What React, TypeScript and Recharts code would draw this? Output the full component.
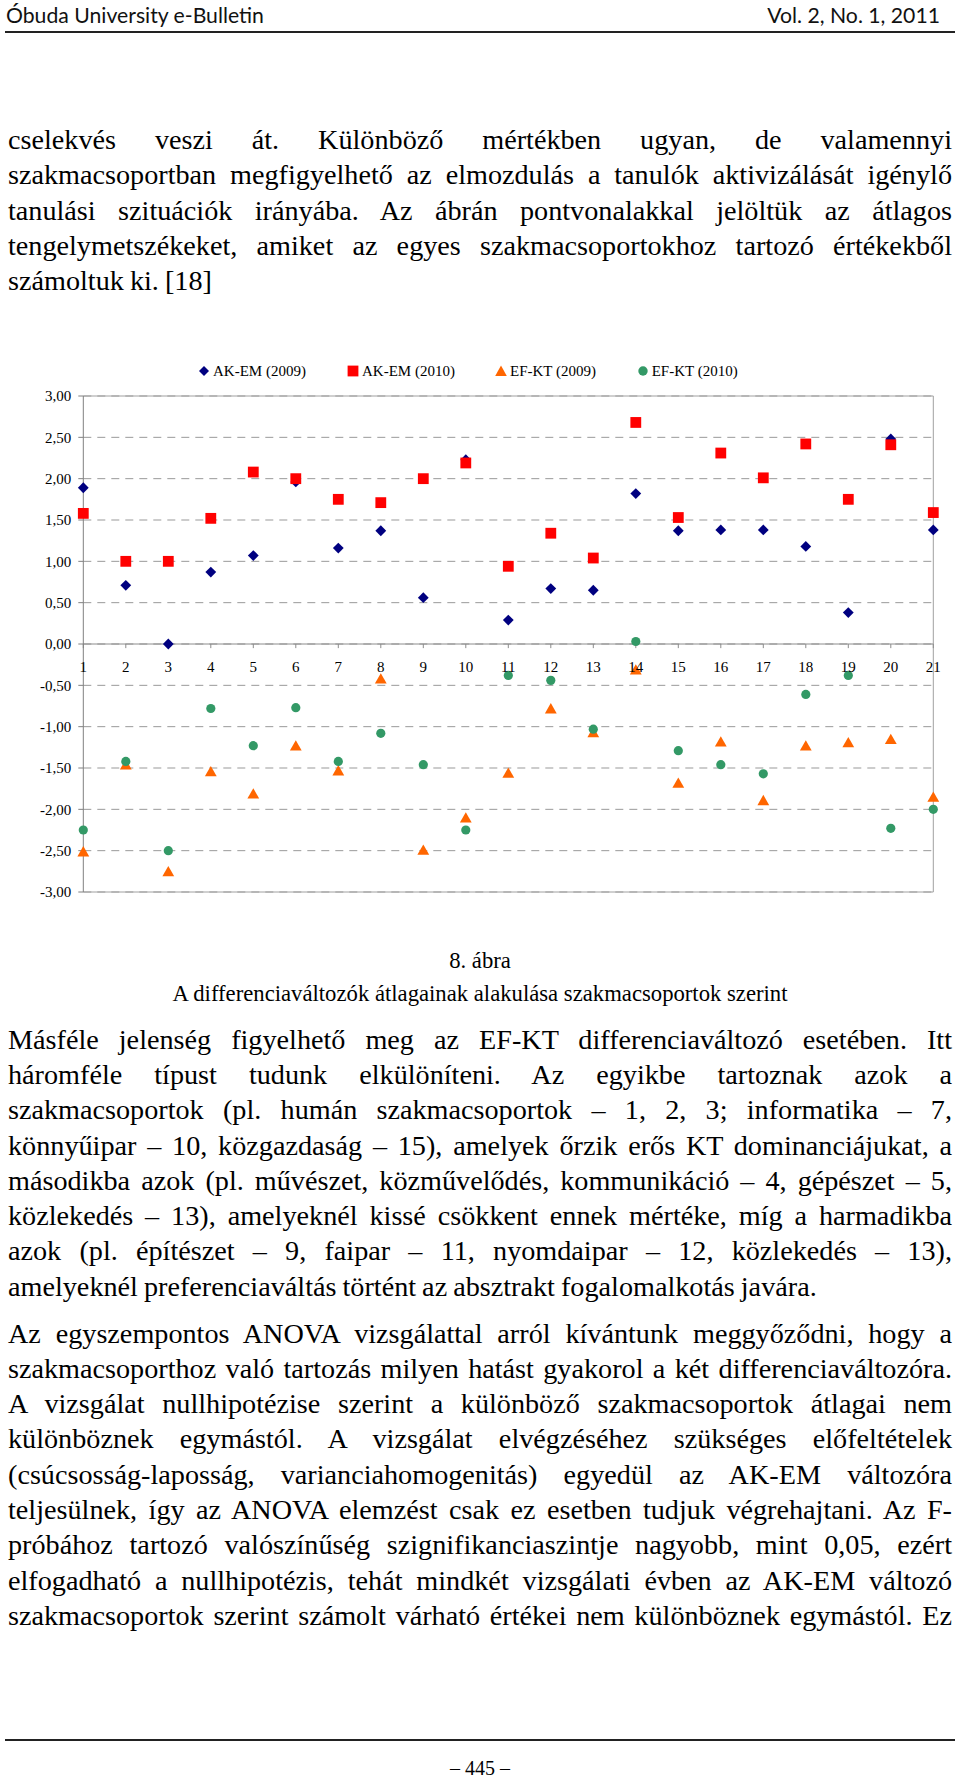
import React from "react";
import {
  ScatterChart,
  Scatter,
  XAxis,
  YAxis,
  CartesianGrid,
  ReferenceLine,
  ReferenceDot,
  Legend,
} from "recharts";

// ---- chart data ----
const categories = [1, 2, 3, 4, 5, 6, 7, 8, 9, 10, 11, 12, 13, 14, 15, 16, 17, 18, 19, 20, 21];
const akEm2009 = [1.89, 0.71, 0.0, 0.87, 1.07, 1.96, 1.16, 1.37, 0.56, 2.23, 0.29, 0.67, 0.65, 1.82, 1.37, 1.38, 1.38, 1.18, 0.38, 2.48, 1.38];
const akEm2010 = [1.58, 1.0, 1.0, 1.52, 2.08, 2.0, 1.75, 1.71, 2.0, 2.19, 0.94, 1.34, 1.04, 2.68, 1.53, 2.31, 2.01, 2.42, 1.75, 2.41, 1.59];
const efKt2009 = [-2.51, -1.46, -2.75, -1.54, -1.81, -1.23, -1.53, -0.42, -2.49, -2.1, -1.56, -0.78, -1.07, -0.31, -1.68, -1.18, -1.89, -1.23, -1.19, -1.15, -1.85];
const efKt2010 = [-2.25, -1.42, -2.5, -0.78, -1.23, -0.77, -1.42, -1.08, -1.46, -2.25, -0.38, -0.44, -1.03, 0.03, -1.29, -1.46, -1.57, -0.61, -0.38, -2.23, -2.0];
const yTicks = [-3, -2.5, -2, -1.5, -1, -0.5, 0, 0.5, 1, 1.5, 2, 2.5, 3];
const seriesNames = ["AK-EM (2009)", "AK-EM (2010)", "EF-KT (2009)", "EF-KT (2010)"];

// ---- page text ----
const para1 = [
  "cselekvés veszi át. Különböző mértékben ugyan, de valamennyi",
  "szakmacsoportban megfigyelhető az elmozdulás a tanulók aktivizálását igénylő",
  "tanulási szituációk irányába. Az ábrán pontvonalakkal jelöltük az átlagos",
  "tengelymetszékeket, amiket az egyes szakmacsoportokhoz tartozó értékekből",
  "számoltuk ki. [18]",
];
const para2 = [
  "Másféle jelenség figyelhető meg az EF-KT differenciaváltozó esetében. Itt",
  "háromféle típust tudunk elkülöníteni. Az egyikbe tartoznak azok a",
  "szakmacsoportok (pl. humán szakmacsoportok – 1, 2, 3; informatika – 7,",
  "könnyűipar – 10, közgazdaság – 15), amelyek őrzik erős KT dominanciájukat, a",
  "másodikba azok (pl. művészet, közművelődés, kommunikáció – 4, gépészet – 5,",
  "közlekedés – 13), amelyeknél kissé csökkent ennek mértéke, míg a harmadikba",
  "azok (pl. építészet – 9, faipar – 11, nyomdaipar – 12, közlekedés – 13),",
  "amelyeknél preferenciaváltás történt az absztrakt fogalomalkotás javára.",
];
const para3 = [
  "Az egyszempontos ANOVA vizsgálattal arról kívántunk meggyőződni, hogy a",
  "szakmacsoporthoz való tartozás milyen hatást gyakorol a két differenciaváltozóra.",
  "A vizsgálat nullhipotézise szerint a különböző szakmacsoportok átlagai nem",
  "különböznek egymástól. A vizsgálat elvégzéséhez szükséges előfeltételek",
  "(csúcsosság-laposság, varianciahomogenitás) egyedül az AK-EM változóra",
  "teljesülnek, így az ANOVA elemzést csak ez esetben tudjuk végrehajtani. Az F-",
  "próbához tartozó valószínűség szignifikanciaszintje nagyobb, mint 0,05, ezért",
  "elfogadható a nullhipotézis, tehát mindkét vizsgálati évben az AK-EM változó",
  "szakmacsoportok szerint számolt várható értékei nem különböznek egymástól. Ez",
];

const SERIF = "'Liberation Serif', 'Times New Roman', serif";
const C_NAVY = "#000080";
const C_RED = "#ff0000";
const C_ORANGE = "#ff6600";
const C_GREEN = "#339966";

const toData = (vals: number[]) => categories.map((c, i) => ({ x: c, y: vals[i] }));

const Diamond = (p: any) => {
  const { cx, cy } = p;
  const h = 5.4;
  return <path d={`M${cx},${cy - h}L${cx + h},${cy}L${cx},${cy + h}L${cx - h},${cy}Z`} fill={C_NAVY} />;
};
const Square = (p: any) => {
  const { cx, cy } = p;
  const h = 5.4;
  return <rect x={cx - h} y={cy - h} width={2 * h} height={2 * h} fill={C_RED} />;
};
const Triangle = (p: any) => {
  const { cx, cy } = p;
  return <path d={`M${cx},${cy - 5.4}L${cx + 5.9},${cy + 4.9}L${cx - 5.9},${cy + 4.9}Z`} fill={C_ORANGE} />;
};
const Circle = (p: any) => {
  const { cx, cy } = p;
  return <circle cx={cx} cy={cy} r={4.6} fill={C_GREEN} />;
};

const legendMarkers = [
  (
    <svg width={12} height={12} key="m0">
      <path d="M6,1L11,6L6,11L1,6Z" fill={C_NAVY} />
    </svg>
  ),
  (
    <svg width={12} height={12} key="m1">
      <rect x={0.6} y={0.6} width={10.8} height={10.8} fill={C_RED} />
    </svg>
  ),
  (
    <svg width={12} height={12} key="m2">
      <path d="M6,0.6L11.8,11L0.2,11Z" fill={C_ORANGE} />
    </svg>
  ),
  (
    <svg width={12} height={12} key="m3">
      <circle cx={6} cy={6} r={4.7} fill={C_GREEN} />
    </svg>
  ),
];
const legendMarkerLeft = [198, 346.7, 495.3, 636.7];
const legendTextLeft = [213, 362, 510, 651.7];

const renderLegend = () => (
  <div style={{ position: "relative", width: 960, height: 22 }}>
    {seriesNames.map((name, i) => (
      <React.Fragment key={name}>
        <div style={{ position: "absolute", left: legendMarkerLeft[i], top: 5, width: 12, height: 12, lineHeight: 0 }}>
          {legendMarkers[i]}
        </div>
        <div
          style={{
            position: "absolute",
            left: legendTextLeft[i],
            top: 0,
            fontFamily: SERIF,
            fontSize: 15,
            lineHeight: "22px",
            color: "#000",
            whiteSpace: "nowrap",
          }}
        >
          {name}
        </div>
      </React.Fragment>
    ))}
  </div>
);

const LINE_H = 35.3;

const Paragraph = ({ lines, top, justifyLast }: { lines: string[]; top: number; justifyLast: boolean }) => (
  <div
    style={{
      position: "absolute",
      left: 8,
      top,
      width: 944,
      fontFamily: SERIF,
      fontSize: 28.2,
      lineHeight: `${LINE_H}px`,
      color: "#000",
    }}
  >
    {lines.map((l, i) => {
      const last = i === lines.length - 1 && !justifyLast;
      return (
        <div
          key={i}
          style={{
            height: LINE_H,
            textAlign: last ? "left" : "justify",
            textAlignLast: last ? "left" : "justify",
            whiteSpace: "nowrap",
            wordSpacing: -1,
          }}
        >
          {l}
        </div>
      );
    })}
  </div>
);

const yFmt = (v: number) => v.toFixed(2).replace(".", ",");

const headerStyle: React.CSSProperties = {
  position: "absolute",
  top: 2,
  fontFamily: "Lato, 'Open Sans', sans-serif",
  fontSize: 21.2,
  lineHeight: "26px",
  color: "#111",
  whiteSpace: "nowrap",
};

export default function App() {
  return (
    <div
      style={{
        position: "absolute",
        left: 0,
        top: 0,
        width: 960,
        height: 1778,
        overflow: "hidden",
        background: "#fff",
      }}
    >
      {/* header */}
      <div style={{ ...headerStyle, left: 6 }}>Óbuda University e-Bulletin</div>
      <div style={{ ...headerStyle, right: 20 }}>Vol. 2, No. 1, 2011</div>
      <div style={{ position: "absolute", left: 5, top: 31, width: 950, height: 2, background: "#222" }} />

      <Paragraph lines={para1} top={122} justifyLast={false} />

      {/* chart */}
      <div style={{ position: "absolute", left: 0, top: 350, width: 960, height: 560 }}>
        <ScatterChart width={960} height={560} margin={{ top: 46, right: 26.7, bottom: 18, left: 23.3 }}>
          <CartesianGrid vertical={false} stroke="#999999" strokeDasharray="8 6" />
          <XAxis type="number" dataKey="x" domain={[1, 21]} hide />
          <YAxis
            type="number"
            dataKey="y"
            domain={[-3, 3]}
            ticks={yTicks}
            interval={0}
            width={60}
            tickFormatter={yFmt}
            tickSize={5}
            tickMargin={7}
            axisLine={{ stroke: "#808080" }}
            tickLine={{ stroke: "#808080" }}
            tick={{ fill: "#000", fontSize: 15, fontFamily: SERIF }}
          />
          <ReferenceLine y={3} stroke="#a0a0a0" />
          <ReferenceLine y={-3} stroke="#a0a0a0" />
          <ReferenceLine x={21} stroke="#a0a0a0" />
          <ReferenceLine y={0} stroke="#8c8c8c" />
          {categories.map((c) => (
            <ReferenceLine
              key={`t${c}`}
              segment={[
                { x: c, y: 0 },
                { x: c, y: -0.05 },
              ]}
              stroke="#8c8c8c"
            />
          ))}
          {categories.map((c) => (
            <ReferenceDot
              key={`l${c}`}
              x={c}
              y={0}
              r={0}
              fill="none"
              stroke="none"
              label={{ value: String(c), position: "bottom", offset: 17.5, fontSize: 15, fill: "#000", fontFamily: SERIF }}
            />
          ))}
          <Legend
            layout="horizontal"
            verticalAlign="middle"
            align="center"
            content={renderLegend}
            wrapperStyle={{ top: 10, left: 0, width: 960, height: 22 }}
          />
          <Scatter name={seriesNames[0]} data={toData(akEm2009)} shape={Diamond} isAnimationActive={false} />
          <Scatter name={seriesNames[1]} data={toData(akEm2010)} shape={Square} isAnimationActive={false} />
          <Scatter name={seriesNames[2]} data={toData(efKt2009)} shape={Triangle} isAnimationActive={false} />
          <Scatter name={seriesNames[3]} data={toData(efKt2010)} shape={Circle} isAnimationActive={false} />
        </ScatterChart>
      </div>

      {/* caption */}
      <div
        style={{
          position: "absolute",
          left: 0,
          top: 945,
          width: 960,
          textAlign: "center",
          fontFamily: SERIF,
          fontSize: 22.7,
          lineHeight: "32.5px",
          color: "#000",
        }}
      >
        <div>8. ábra</div>
        <div>A differenciaváltozók átlagainak alakulása szakmacsoportok szerint</div>
      </div>

      <Paragraph lines={para2} top={1021.7} justifyLast={false} />
      <Paragraph lines={para3} top={1315.5} justifyLast={true} />

      {/* footer */}
      <div style={{ position: "absolute", left: 5, top: 1739, width: 950, height: 2, background: "#222" }} />
      <div
        style={{
          position: "absolute",
          left: 0,
          top: 1756,
          width: 960,
          textAlign: "center",
          fontFamily: SERIF,
          fontSize: 20,
          lineHeight: "24px",
          color: "#000",
        }}
      >
        – 445 –
      </div>
    </div>
  );
}
